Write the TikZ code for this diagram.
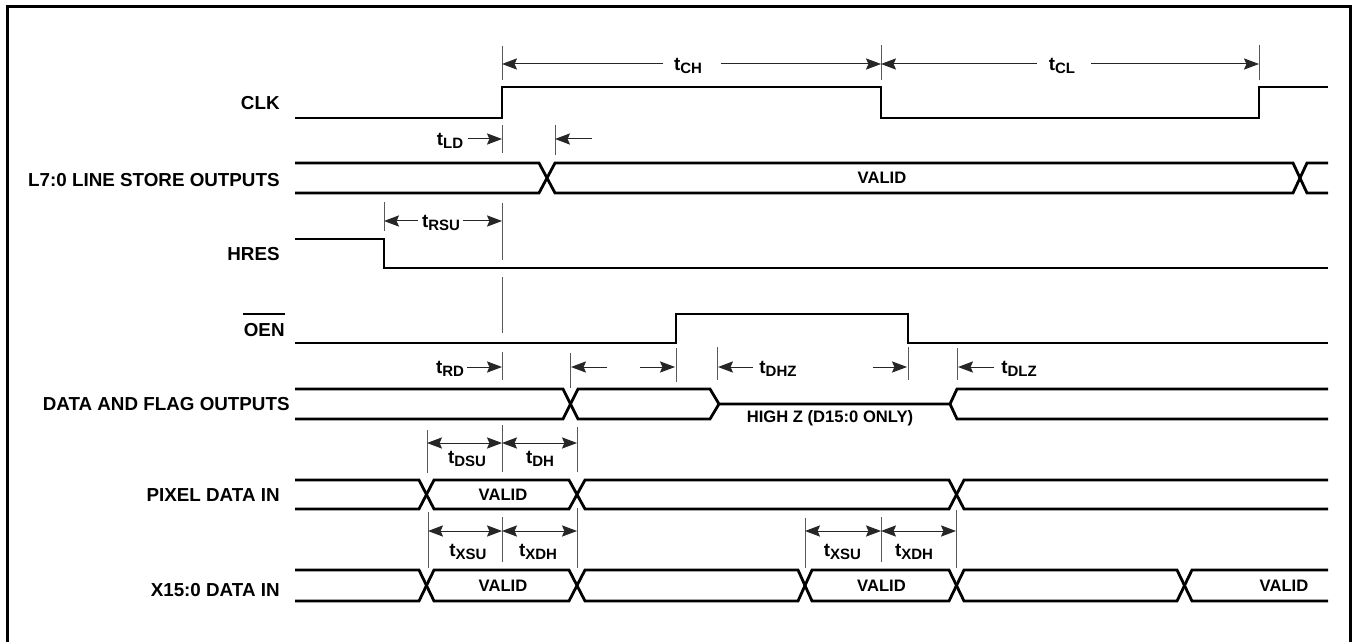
\documentclass[tikz,border=0pt]{standalone}
\usepackage{fontspec}
\setmainfont{Liberation Sans}
\usetikzlibrary{arrows.meta}
\newcommand\tlab[1]{t\raisebox{-1.7pt}{\fontsize{7.5}{8}\selectfont #1}}
\begin{document}
\begin{tikzpicture}[x=0.5pt,y=-0.5pt,
  sig/.style={line width=1.4pt, line join=miter, line cap=butt},
  arr/.style={line width=0.5pt, draw=black!85, -{Stealth[length=7.5pt,width=5.6pt,inset=1.2pt]}},
  dboth/.style={line width=0.5pt, draw=black!85, {Stealth[length=7.5pt,width=5.6pt,inset=1.2pt]}-{Stealth[length=7.5pt,width=5.6pt,inset=1.2pt]}},
  tickline/.style={line width=0.5pt, draw=black!65},
  lbl/.style={font=\fontsize{9.4}{11}\selectfont\bfseries, anchor=east, inner sep=0pt},
  tlbl/.style={font=\fontsize{9.4}{11}\selectfont\bfseries, inner sep=0pt, anchor=base},
  vlbl/.style={font=\fontsize{8.3}{10}\selectfont\bfseries, inner sep=0pt}]
\useasboundingbox (0,0) rectangle (1356,642);
% frame
\draw[line width=1.5pt] (7,642) -- (7,7) -- (1350,7) -- (1350,642);

% left labels
\node[lbl] (lclk) at (280,103) {CLK};
\node[lbl] (ll7) at (280,180.5) {L7:0 LINE STORE OUTPUTS};
\node[lbl] (lhres) at (280,254) {HRES};
\node[lbl] (loen) at (285,330) {OEN};
\draw[line width=0.8pt] (loen.west |- 0,314) -- (loen.east |- 0,314);
\node[lbl] (ldfo) at (290,404) {DATA AND FLAG OUTPUTS};
\node[lbl] (lpix) at (280,495) {PIXEL DATA IN};
\node[lbl] (lx15) at (280,590) {X15:0 DATA IN};

% CLK
\draw[sig] (295,118) -- (502,118) -- (502,87) -- (881,87) -- (881,118) -- (1259,118) -- (1259,87) -- (1328,87);
% L7:0
\draw[sig] (295,163) -- (539,163) -- (555,193) -- (1293,193) -- (1307,163) -- (1328,163);
\draw[sig] (295,193) -- (539,193) -- (555,163) -- (1293,163) -- (1307,193) -- (1328,193);
\node[vlbl] (v1) at (882,178) {VALID};
% HRES
\draw[sig] (295,239) -- (384,239) -- (384,268) -- (1328,268);
% OEN
\draw[sig] (295,343) -- (676,343) -- (676,314) -- (908,314) -- (908,343) -- (1328,343);
% DATA AND FLAG
\draw[sig] (295,389) -- (563,389) -- (578,419) -- (710,419) -- (719,404);
\draw[sig] (295,419) -- (563,419) -- (578,389) -- (710,389) -- (719,404) -- (950,404) -- (957,389) -- (1328,389);
\draw[sig] (950,404) -- (957,419) -- (1328,419);
\node[vlbl] (hz) at (830,418) {HIGH Z (D15:0 ONLY)};
% PIXEL DATA IN
\draw[sig] (295,480) -- (419,480) -- (434,509) -- (569,509) -- (585,480) -- (949,480) -- (964,509) -- (1328,509);
\draw[sig] (295,509) -- (419,509) -- (434,480) -- (569,480) -- (585,509) -- (949,509) -- (964,480) -- (1328,480);
\node[vlbl] (v2) at (503,495) {VALID};
% X15:0 DATA IN
\draw[sig] (295,570) -- (419,570) -- (434,601) -- (569,601) -- (585,570) -- (798,570) -- (812,601) -- (949,601) -- (964,570) -- (1177,570) -- (1192,601) -- (1328,601);
\draw[sig] (295,601) -- (419,601) -- (434,570) -- (569,570) -- (585,601) -- (798,601) -- (812,570) -- (949,570) -- (964,601) -- (1177,601) -- (1192,570) -- (1328,570);
\node[vlbl] (v3) at (503,586) {VALID};
\node[vlbl] (v4) at (881.5,586) {VALID};
\node[vlbl] (v5) at (1284,586) {VALID};

% tCH / tCL
\draw[tickline] (502,46) -- (502,80);
\draw[tickline] (881,45) -- (881,80);
\draw[tickline] (1259,45) -- (1259,80);
\draw[arr] (663,64) -- (502,64);
\draw[arr] (721,64) -- (881,64);
\node[tlbl] (tch) at (688,70.5) {\tlab{CH}};
\draw[arr] (1037,64) -- (881,64);
\draw[arr] (1091,64) -- (1259,64);
\node[tlbl] (tcl) at (1062,70.5) {\tlab{CL}};

% tLD
\draw[tickline] (502,125) -- (502,153);
\draw[tickline] (555,125) -- (555,155);
\draw[arr] (468,139) -- (502,139);
\draw[arr] (592,139) -- (555,139);
\node[tlbl] (tld) at (450,145.5) {\tlab{LD}};

% tRSU
\draw[tickline] (384,202) -- (384,231);
\draw[tickline] (502,203) -- (502,260);
\draw[tickline] (502,277) -- (502,333);
\draw[arr] (418,221) -- (384,221);
\draw[arr] (463,221) -- (502,221);
\node[tlbl] (trsu) at (441,227.5) {\tlab{RSU}};

% tRD
\draw[tickline] (502,352) -- (502,380);
\draw[arr] (467,367) -- (502,367);
\node[tlbl] (trd) at (450,373.5) {\tlab{RD}};

% OEN -> data enable
\draw[tickline] (570,353) -- (570,388);
\draw[tickline] (676,348) -- (676,382);
\draw[arr] (607,367) -- (571,367);
\draw[arr] (640,367) -- (675,367);

% tDHZ
\draw[tickline] (717,347) -- (717,380);
\draw[tickline] (908,347) -- (908,380);
\draw[arr] (753,367) -- (718,367);
\draw[arr] (873,367) -- (907,367);
\node[tlbl] (tdhz) at (778,373.5) {\tlab{DHZ}};

% tDLZ
\draw[tickline] (957,348) -- (957,380);
\draw[arr] (994,367) -- (958,367);
\node[tlbl] (tdlz) at (1019,373.5) {\tlab{DLZ}};

% tDSU / tDH
\draw[tickline] (427,430) -- (427,473);
\draw[tickline] (502,425) -- (502,472);
\draw[tickline] (577,427) -- (577,472);
\draw[dboth] (427,443) -- (502,443);
\draw[dboth] (502,443) -- (577,443);
\node[tlbl] (tdsu) at (467,463) {\tlab{DSU}};
\node[tlbl] (tdh) at (540,463) {\tlab{DH}};

% tXSU / tXDH (left)
\draw[tickline] (428,512) -- (428,568);
\draw[tickline] (502,517) -- (502,562);
\draw[tickline] (577,508) -- (577,568);
\draw[dboth] (428,531) -- (502,531);
\draw[dboth] (502,531) -- (577,531);
\node[tlbl] (txsu1) at (468,556) {\tlab{XSU}};
\node[tlbl] (txdh1) at (538,556) {\tlab{XDH}};

% tXSU / tXDH (right)
\draw[tickline] (805,518) -- (805,568);
\draw[tickline] (881,517) -- (881,562);
\draw[tickline] (956,510) -- (956,568);
\draw[dboth] (805,531) -- (881,531);
\draw[dboth] (881,531) -- (956,531);
\node[tlbl] (txsu2) at (842.5,556) {\tlab{XSU}};
\node[tlbl] (txdh2) at (914,556) {\tlab{XDH}};
\end{tikzpicture}
\end{document}
